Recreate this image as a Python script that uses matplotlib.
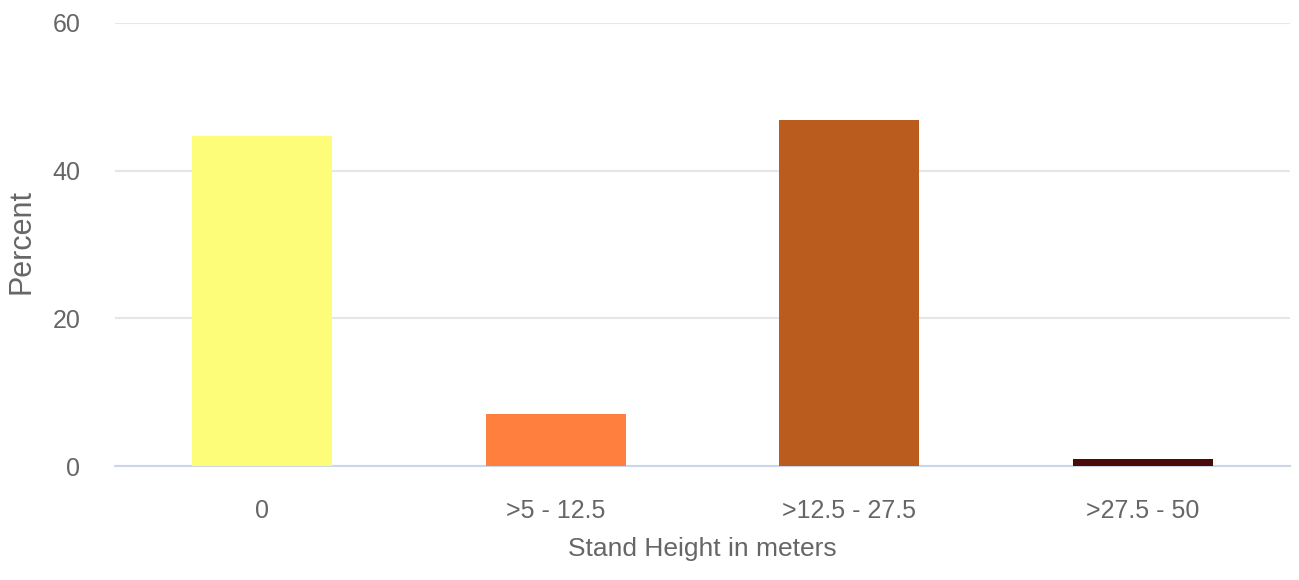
import matplotlib.pyplot as plt

categories = ['0', '>5 - 12.5', '>12.5 - 27.5', '>27.5 - 50']
percent = [44.7, 7.0, 46.9, 0.95]
colors = ['#fdfd7a', '#fe7f3e', '#bb5c1f', '#4a0a0c']
yticks = [0, 20, 40, 60]

narrow = ['Liberation Sans Narrow', 'Liberation Sans', 'DejaVu Sans']

fig = plt.figure(figsize=(12.99, 5.8), dpi=100)
ax = fig.add_axes([115 / 1299, 114 / 580, 1175 / 1299, 443 / 580])

x = range(len(categories))
ax.bar(x, percent, width=0.476, color=colors, zorder=3)

ax.set_xlim(-0.5, len(categories) - 0.5)
ax.set_ylim(0, 60)
ax.set_yticks(yticks)
ax.set_xticks(list(x))
ax.set_xticklabels(categories)

ax.grid(axis='y', color='#e6e6e6', linewidth=1.5, zorder=0)
for s in ['top', 'right', 'left']:
    ax.spines[s].set_visible(False)
ax.spines['bottom'].set_color('#ccd6eb')
ax.spines['bottom'].set_linewidth(1.5)
ax.tick_params(axis='both', length=0, colors='#666666')
ax.tick_params(axis='y', pad=25)
ax.tick_params(axis='x', pad=24)
for lab in ax.get_xticklabels() + ax.get_yticklabels():
    lab.set_family(narrow)
    lab.set_fontsize(18)

ax.set_xlabel('Stand Height in meters', fontsize=19, color='#666666',
              family=narrow, va='top')
ax.xaxis.set_label_coords(0.5, (466 - 537) / 443)
ax.set_ylabel('Percent', fontsize=22, color='#666666',
              family=['Liberation Sans', 'DejaVu Sans'], va='center')
ax.yaxis.set_label_coords((22 - 115) / 1175, 0.506)

plt.savefig('out.png', dpi=100, facecolor='white')
